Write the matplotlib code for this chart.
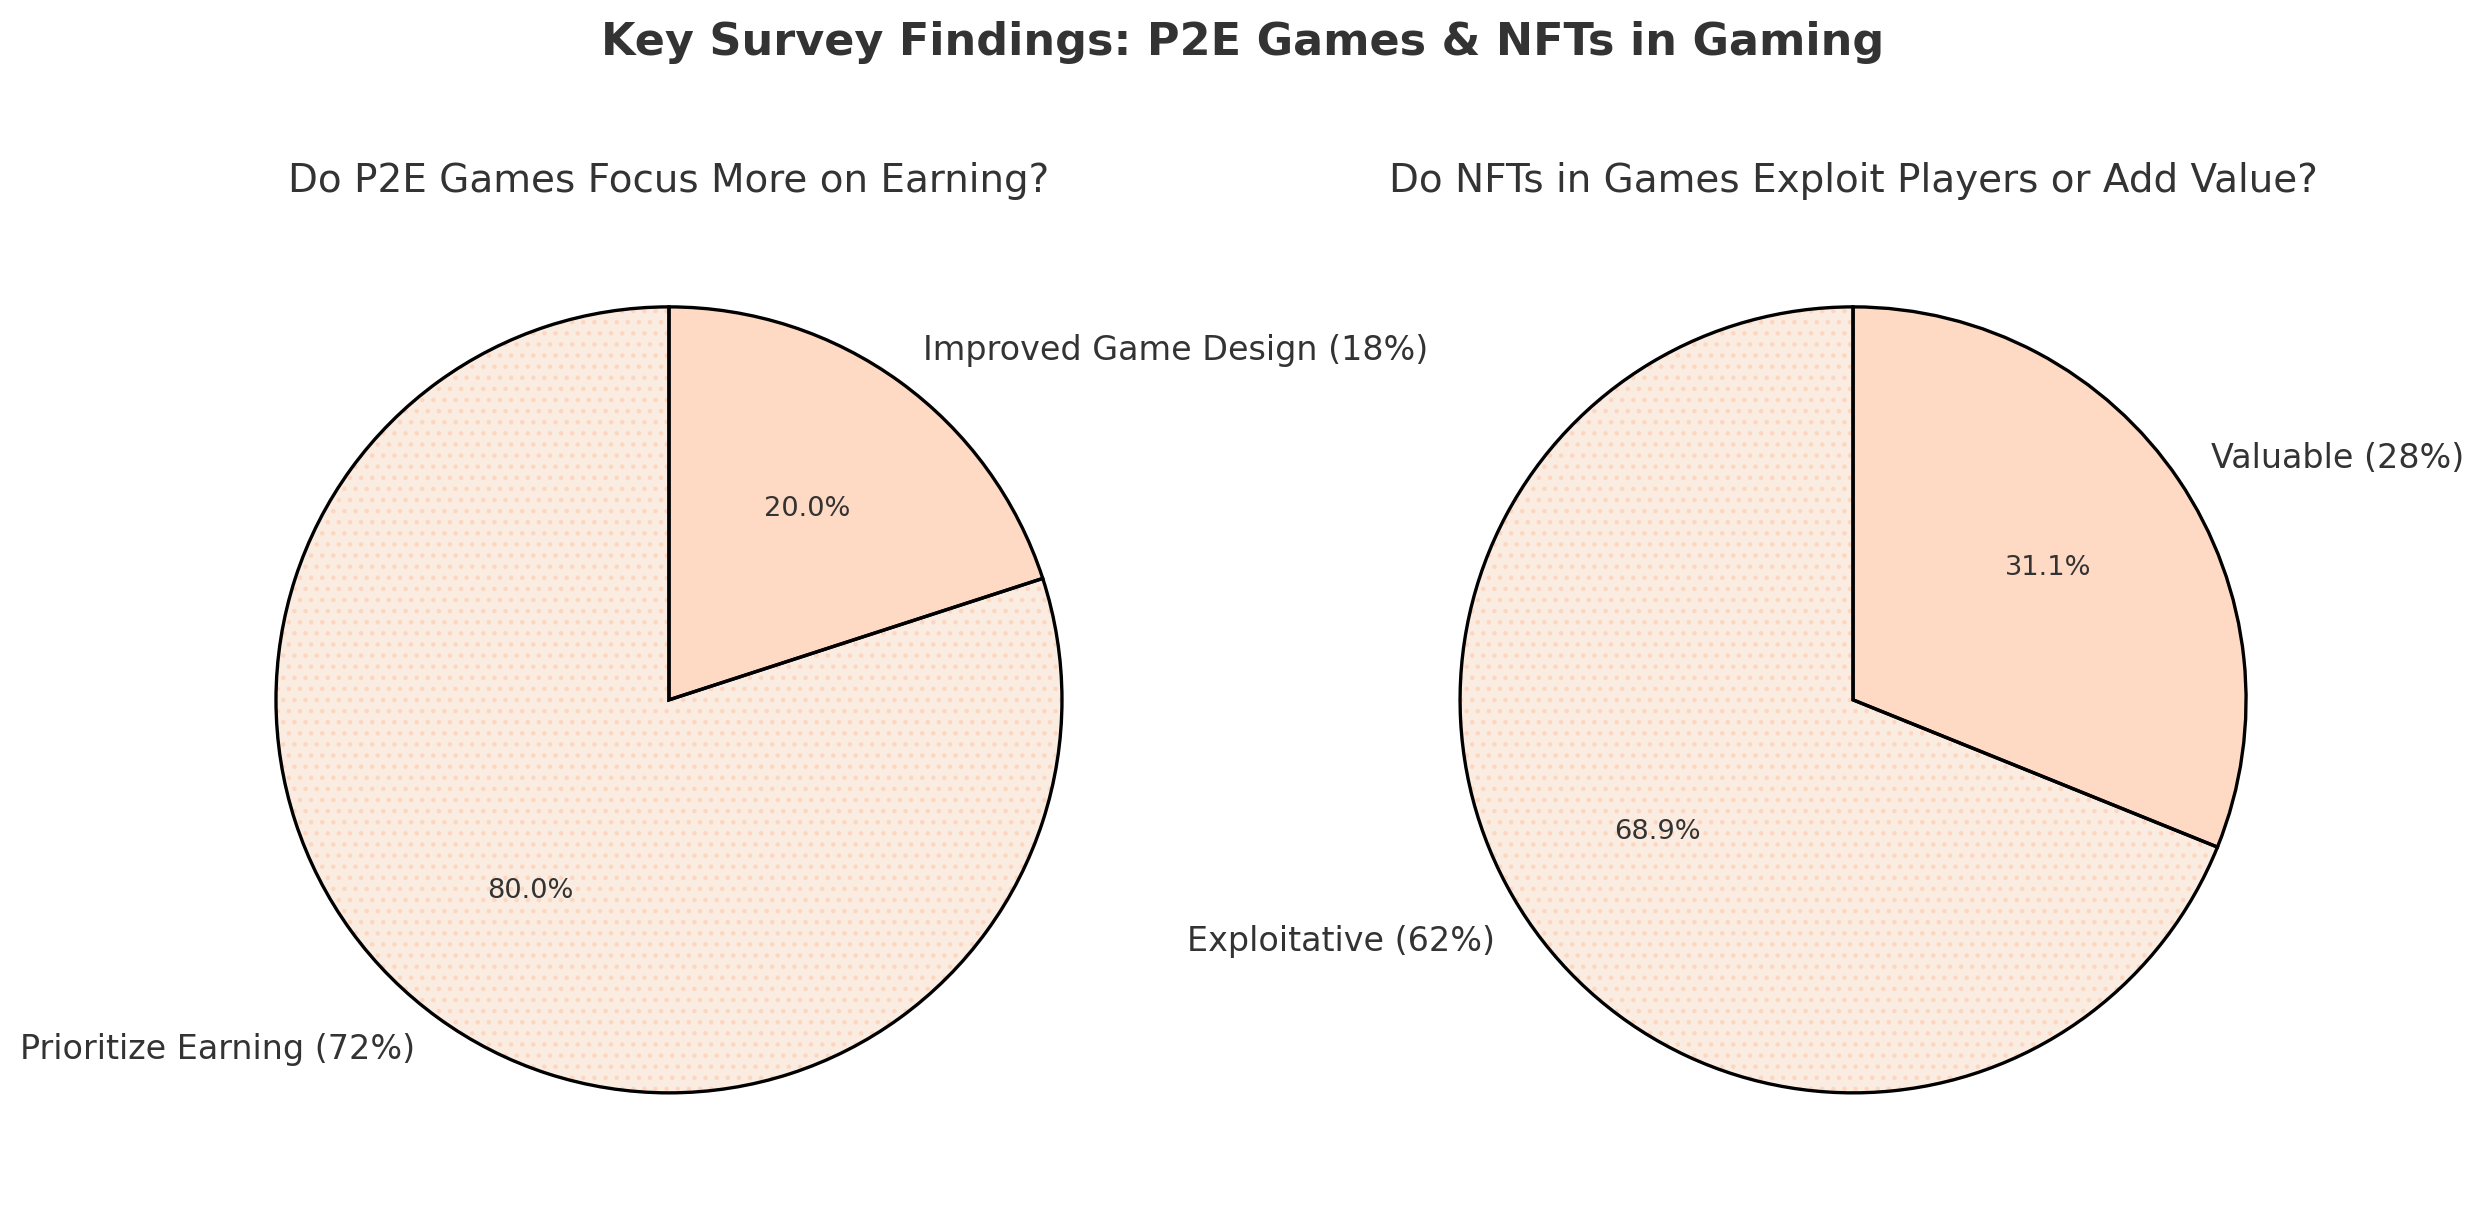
import matplotlib
matplotlib.use("Agg")
from matplotlib import pyplot as plt

# survey data
p2e_labels = ["Prioritize Earning (72%)", "Improved Game Design (18%)"]
p2e_values = [72, 18]
nft_labels = ["Exploitative (62%)", "Valuable (28%)"]
nft_values = [62, 28]

suptitle = "Key Survey Findings: P2E Games & NFTs in Gaming"
titles = ["Do P2E Games Focus More on Earning?",
          "Do NFTs in Games Exploit Players or Add Value?"]

colors = ["#faece1", "#fed9c4"]
hatch_color = "#fdd6c0"
text_color = "#333333"

plt.rcParams["font.family"] = "DejaVu Sans"
plt.rcParams["text.color"] = text_color
plt.rcParams["hatch.linewidth"] = 0.8

fig = plt.figure(figsize=(12.43, 6.06), dpi=200)
ax1 = fig.add_axes([0.0715, 0.0172, 0.3952, 0.8107])
ax2 = fig.add_axes([0.5478, 0.0172, 0.3952, 0.8107])

for ax, vals, labs, ttl in [(ax1, p2e_values, p2e_labels, titles[0]),
                            (ax2, nft_values, nft_labels, titles[1])]:
    # dotted texture underneath
    wedges, _ = ax.pie(vals, colors=colors, startangle=90,
                       wedgeprops=dict(edgecolor=hatch_color, linewidth=0))
    wedges[0].set_hatch("...")
    # outlined pie with labels on top
    w2, texts, autotexts = ax.pie(vals, labels=labs, autopct="%1.1f%%", startangle=90,
                                  wedgeprops=dict(fill=False, edgecolor="black", linewidth=1.2),
                                  textprops=dict(fontsize=12, color=text_color))
    for t in autotexts:
        t.set_fontsize(9.8)
    ax.set_title(ttl, fontsize=14, color=text_color)

fig.suptitle(suptitle, fontsize=16, fontweight="bold", color=text_color, y=0.965, va="center")

plt.savefig("out.png", dpi=200)
